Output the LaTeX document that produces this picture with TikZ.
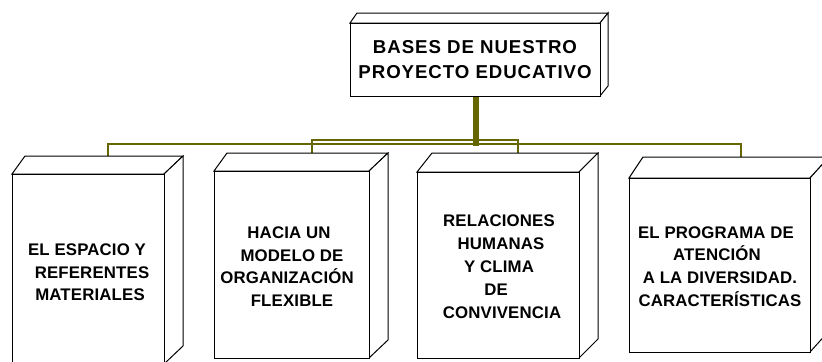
\documentclass[tikz,border=0pt]{standalone}
\usepackage{fontspec}
\setmainfont{Liberation Sans}
\newfontfamily\titlefont[LetterSpace=5]{Liberation Sans}
\newfontfamily\childfont[LetterSpace=1]{Liberation Sans}
\definecolor{olivec}{RGB}{102,102,0}
\newcommand\mycube[7]{%
  \draw[face] (#1,#2) -- (#1+#5,#2-#7) -- (#3+#6,#2-#7) -- (#3,#2) -- cycle;
  \draw[face] (#3,#2) -- (#3+#6,#2-#7) -- (#3+#6,#4-#7) -- (#3,#4) -- cycle;
  \draw[face] (#1,#2) rectangle (#3,#4);
}
\begin{document}
\begin{tikzpicture}[x=0.75pt,y=-0.75pt,line join=miter,
  face/.style={draw=black,fill=white,line width=0.75pt},
  conn/.style={draw=olivec,line width=1.5pt},
  trunk/.style={draw=olivec,line width=4.5pt},
  ttl/.style={font={\titlefont\bfseries\fontsize{14}{16}\selectfont},anchor=base,inner sep=0pt},
  lbl/.style={font={\childfont\bfseries\fontsize{12.6}{14}\selectfont},anchor=base,inner sep=0pt}]
\useasboundingbox (0,0) rectangle (822,361);
% connector end points
\coordinate (root) at (476,96);
\coordinate (busA) at (0,144);
\coordinate (busB) at (0,140);
\coordinate (c1top) at (108,156);
\coordinate (c2top) at (312,153);
\coordinate (c3top) at (518,153);
\coordinate (c4top) at (741,157);
% connectors
\draw[conn] (root) -- (root |- busA) -| (c1top);
\draw[conn] (root) -- (root |- busA) -| (c4top);
\draw[conn] (root) -- (root |- busB) -| (c2top);
\draw[conn] (root) -- (root |- busB) -| (c3top);
\draw[trunk] (root) -- ([yshift=-1.5pt]root |- busA);
% boxes
\mycube{350}{23}{600}{96}{7}{8}{10}
\mycube{12}{174}{164}{364}{13}{19}{18}
\mycube{214}{171}{369}{358}{13}{19}{18}
\mycube{417}{172}{579}{358}{15}{19}{19}
\mycube{629}{178}{810}{352}{14}{19}{21}
% title
\node[ttl] (t1) at (475,53) {BASES DE NUESTRO};
\node[ttl] (t2) at (475,78) {PROYECTO EDUCATIVO};
% box 1
\node[lbl] (a1) at (87,255) {EL ESPACIO Y};
\node[lbl] (a2) at (92,278) {REFERENTES};
\node[lbl] (a3) at (90,300) {MATERIALES};
% box 2
\node[lbl] (b1) at (289,238) {HACIA UN};
\node[lbl] (b2) at (292,261) {MODELO DE};
\node[lbl] (b3) at (287,283) {ORGANIZACIÓN};
\node[lbl] (b4) at (292,306) {FLEXIBLE};
% box 3
\node[lbl] (d1) at (499,226) {RELACIONES};
\node[lbl] (d2) at (501,249) {HUMANAS};
\node[lbl] (d3) at (499,272) {Y CLIMA};
\node[lbl] (d4) at (496,295) {DE};
\node[lbl] (d5) at (502,318) {CONVIVENCIA};
% box 4
\node[lbl] (e1) at (716,238) {EL PROGRAMA DE};
\node[lbl] (e2) at (717,260) {ATENCIÓN};
\node[lbl] (e3) at (720,283) {A LA DIVERSIDAD.};
\node[lbl] (e4) at (720,306) {CARACTERÍSTICAS};
\end{tikzpicture}
\end{document}
